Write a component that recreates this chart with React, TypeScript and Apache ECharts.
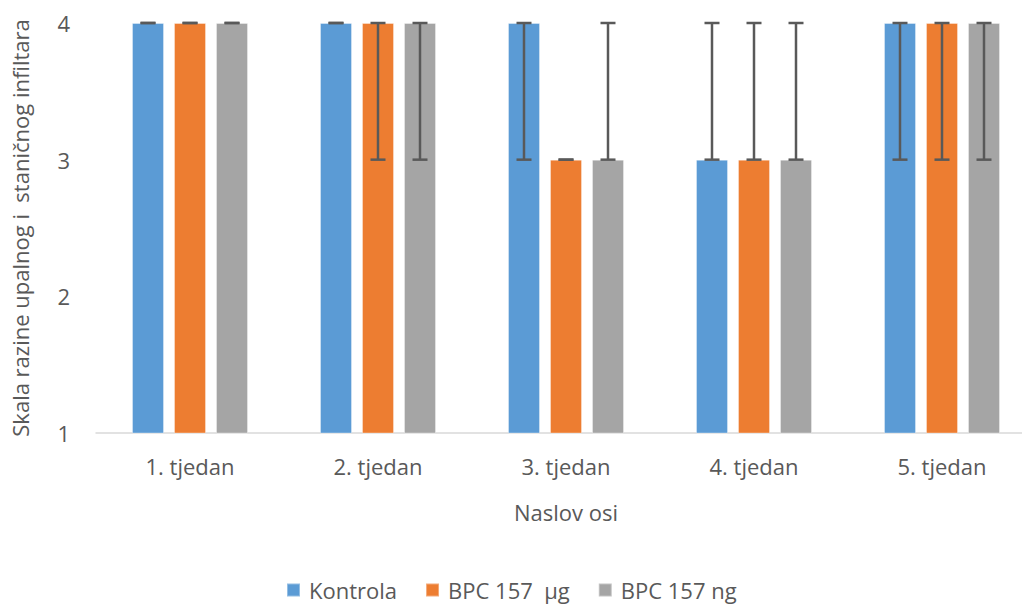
import React, { useEffect, useRef } from "react";
import * as echarts from "echarts";

const categories = ["1. tjedan", "2. tjedan", "3. tjedan", "4. tjedan", "5. tjedan"];
const seriesNames = ["Kontrola", "BPC 157  µg", "BPC 157 ng"];
const kontrola = [4, 4, 4, 3, 4];
const bpcUg = [4, 4, 3, 3, 4];
const bpcNg = [4, 4, 3, 3, 4];
const kontrolaLow = [4, 4, 3, 3, 3];
const kontrolaHigh = [4, 4, 4, 4, 4];
const bpcUgLow = [4, 3, 3, 3, 3];
const bpcUgHigh = [4, 4, 3, 4, 4];
const bpcNgLow = [4, 3, 3, 3, 3];
const bpcNgHigh = [4, 4, 4, 4, 4];
const yTicks = [1, 2, 3, 4];

const colors = ["#5B9BD5", "#ED7D31", "#A5A5A5"];
const FONT = "'Open Sans', Lato, sans-serif";
const TEXT = "#595959";
const BAR_W = 32;
const BAR_GAP = 10;

export default function App() {
  const ref = useRef<HTMLDivElement>(null);
  useEffect(() => {
    if (!ref.current) return;
    const chart = echarts.init(ref.current, undefined, { renderer: "svg" });
    const values = [kontrola, bpcUg, bpcNg];
    const lows = [kontrolaLow, bpcUgLow, bpcNgLow];
    const highs = [kontrolaHigh, bpcUgHigh, bpcNgHigh];

    const barSeries = values.map((v, i) => ({
      type: "bar",
      name: seriesNames[i],
      data: v,
      barWidth: BAR_W,
      barGap: `${(BAR_GAP / BAR_W) * 100}%`,
      itemStyle: { color: colors[i], borderColor: "rgba(255,255,255,0.35)", borderWidth: 1 },
      z: 2,
    }));

    const errSeries = values.map((v, i) => ({
      type: "custom",
      name: "err" + i,
      data: v.map((_, k) => [k, lows[i][k], highs[i][k]]),
      z: 5,
      silent: true,
      renderItem: (params: any, api: any) => {
        const k = api.value(0);
        const lo = api.coord([k, api.value(1)]);
        const hi = api.coord([k, api.value(2)]);
        const x = lo[0] + (i - 1) * (BAR_W + BAR_GAP);
        const half = 7.5;
        const style = { stroke: "#595959", lineWidth: 2.5 };
        return {
          type: "group",
          children: [
            { type: "line", shape: { x1: x, y1: lo[1], x2: x, y2: hi[1] }, style },
            { type: "line", shape: { x1: x - half, y1: lo[1], x2: x + half, y2: lo[1] }, style },
            { type: "line", shape: { x1: x - half, y1: hi[1], x2: x + half, y2: hi[1] }, style },
          ],
        };
      },
    }));

    chart.setOption({
      animation: false,
      textStyle: { fontFamily: FONT },
      grid: { left: 96, width: 940, top: 23, bottom: 175 },
      legend: {
        data: seriesNames,
        left: 286,
        top: 579,
        padding: 0,
        itemWidth: 13,
        itemHeight: 13,
        itemGap: 28,
        icon: "rect",
        textStyle: { color: TEXT, fontSize: 22, fontFamily: FONT, padding: [0, 0, 0, 4] },
      },
      xAxis: {
        type: "category",
        data: categories,
        name: "Naslov osi",
        nameLocation: "middle",
        nameGap: 68,
        nameTextStyle: { color: TEXT, fontSize: 22, fontFamily: FONT },
        axisLine: { lineStyle: { color: "#D9D9D9", width: 1.5 } },
        axisTick: { show: false },
        axisLabel: { color: TEXT, fontSize: 22, margin: 22, fontFamily: FONT },
      },
      yAxis: {
        type: "value",
        min: 1,
        max: 4,
        interval: 1,
        name: "Skala razine upalnog i  staničnog infiltara",
        nameLocation: "middle",
        nameGap: 65,
        nameRotate: 90,
        nameTextStyle: { color: TEXT, fontSize: 22, fontFamily: FONT },
        axisLine: { show: false },
        axisTick: { show: false },
        splitLine: { show: false },
        axisLabel: {
          color: TEXT,
          fontSize: 22,
          margin: 26,
          fontFamily: FONT,
          formatter: (v: number) => (yTicks.includes(v) ? String(v) : ""),
        },
      },
      series: [...barSeries, ...errSeries],
    });
    return () => chart.dispose();
  }, []);
  return (
    <div style={{ position: "fixed", left: 0, top: 0, width: 1022, height: 608, overflow: "hidden", background: "#fff" }}>
      <div ref={ref} style={{ width: 1040, height: 608 }} />
    </div>
  );
}
